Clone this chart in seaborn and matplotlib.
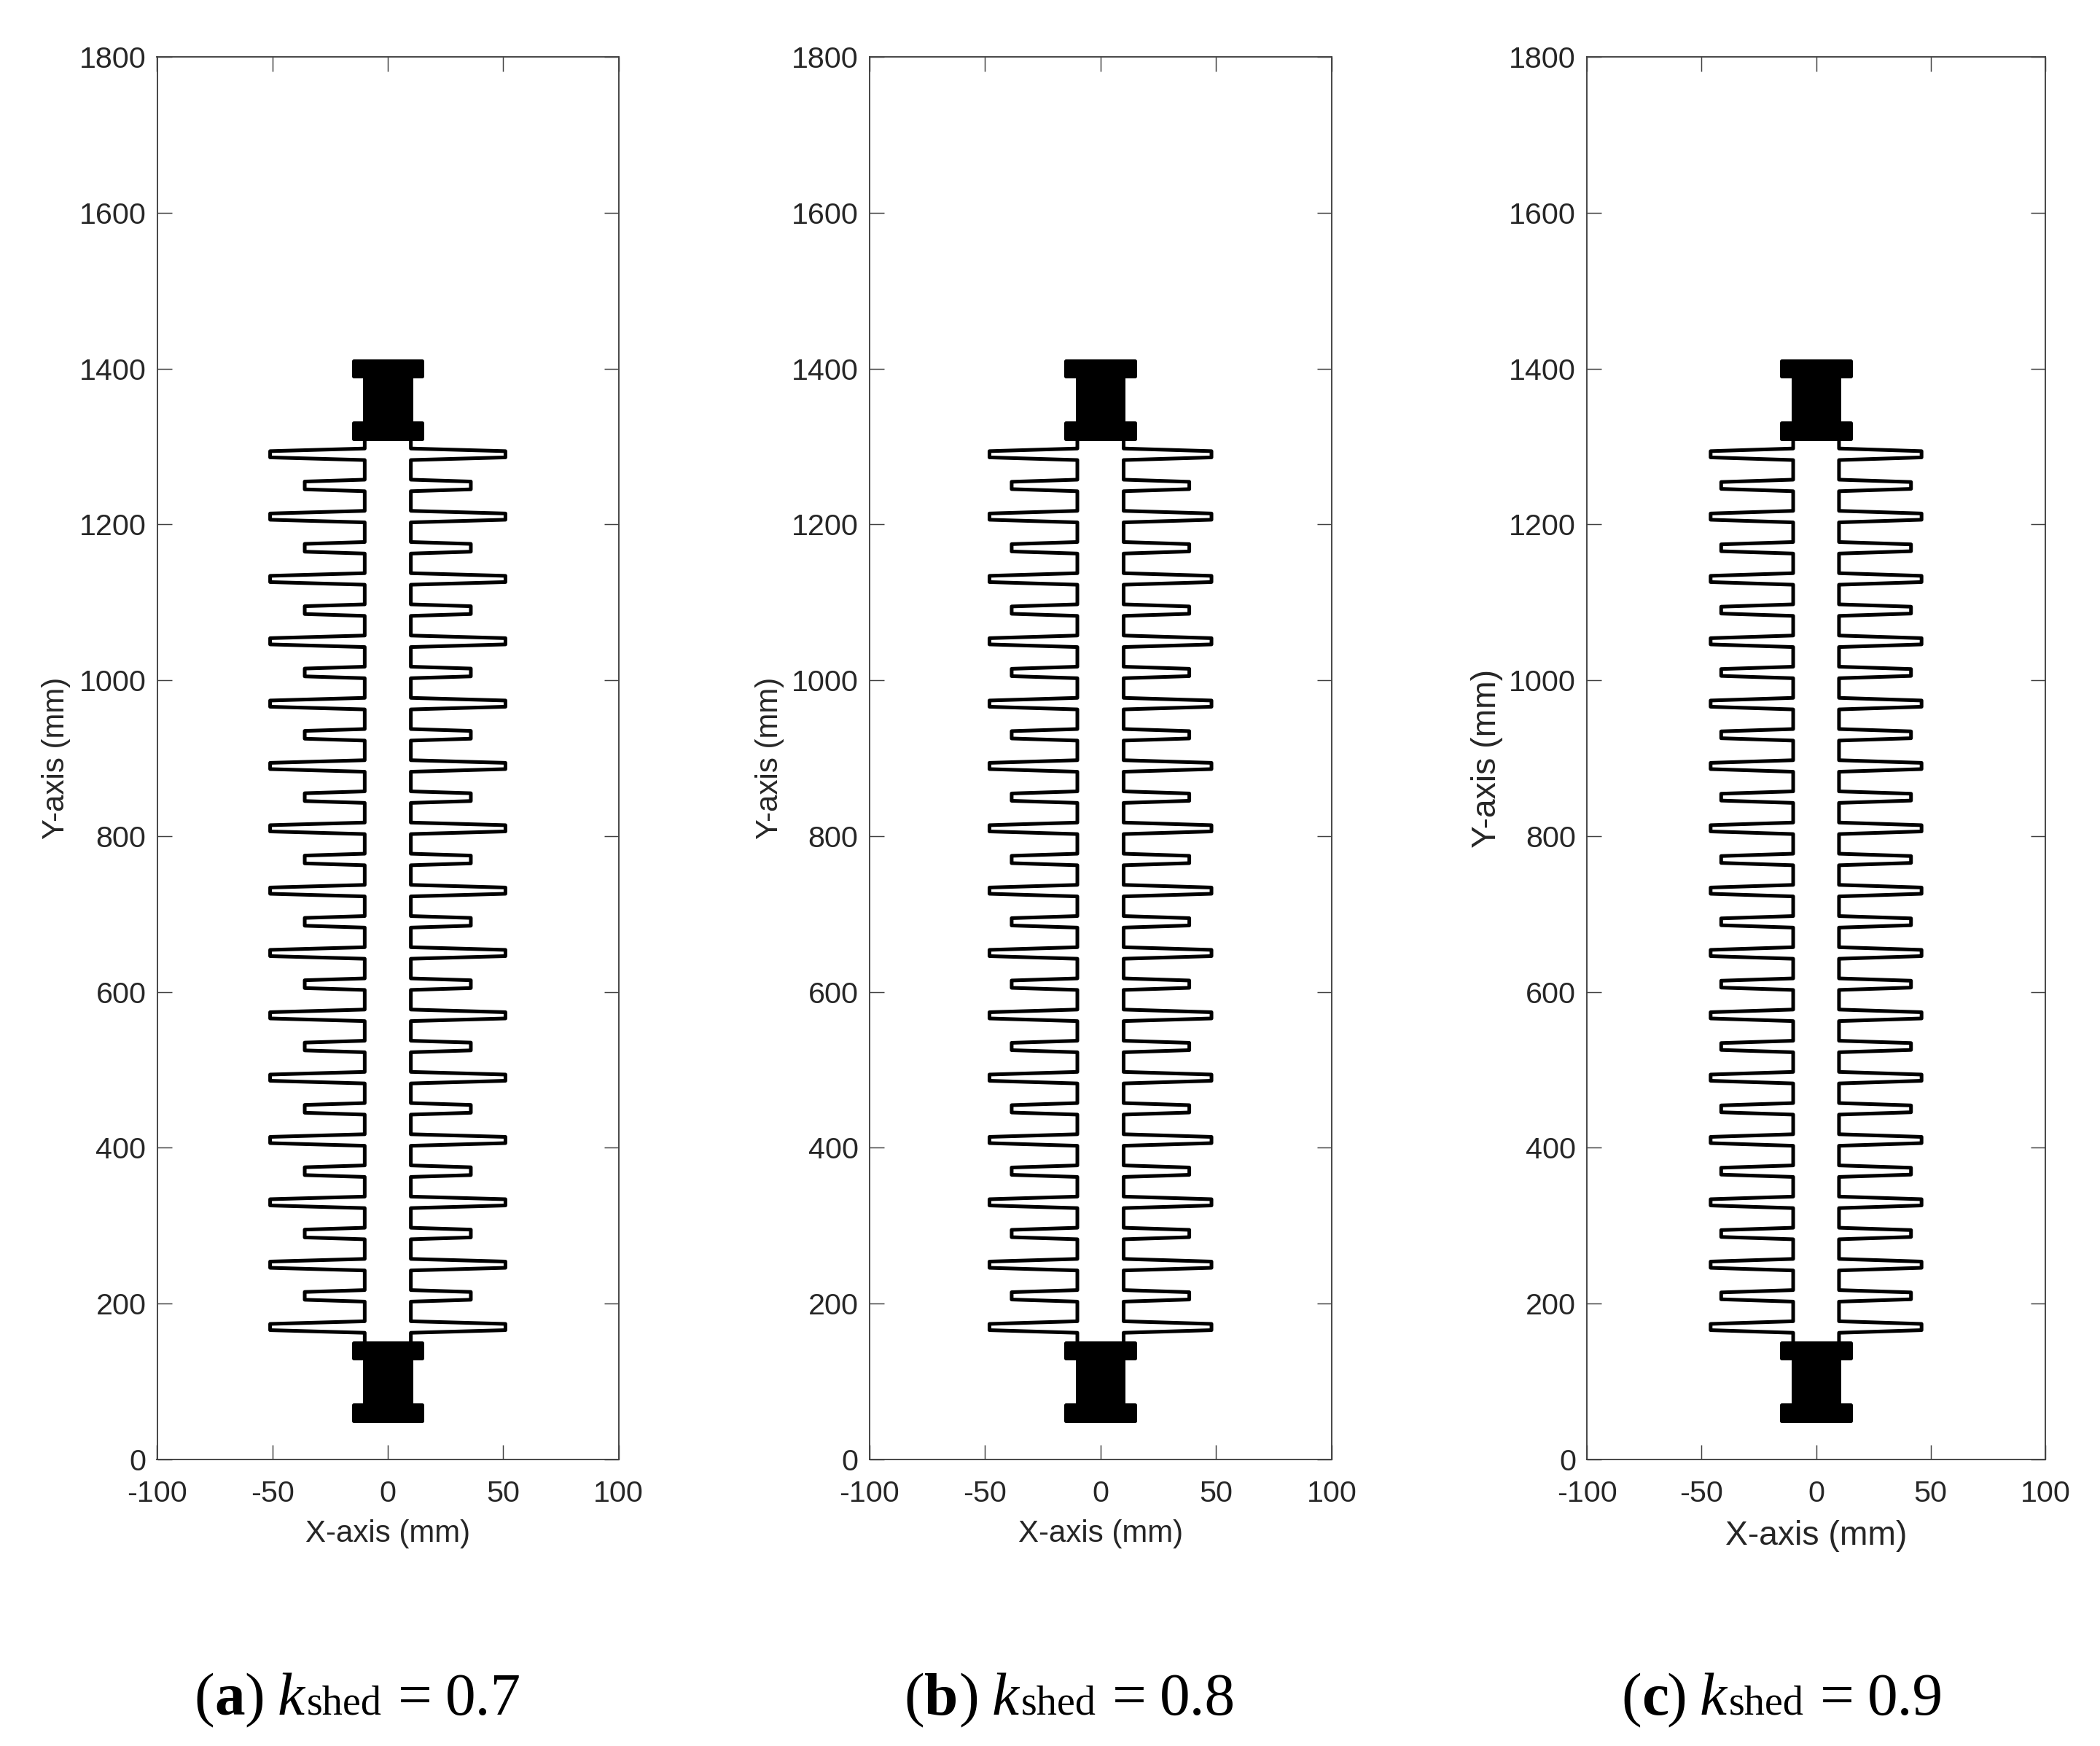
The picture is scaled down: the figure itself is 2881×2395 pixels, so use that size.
import matplotlib
matplotlib.use("Agg")
import matplotlib.pyplot as plt
import numpy as np
import pandas as pd
import seaborn as sns

# valores (mm)
panels = ["a", "b", "c"]
kshed_labels = ["0.7", "0.8", "0.9"]
shed_y = [170, 210, 250, 290, 330, 370, 410, 450, 490, 530, 570, 610, 650, 690, 730,
          770, 810, 850, 890, 930, 970, 1010, 1050, 1090, 1130, 1170, 1210, 1250, 1290]
large_radius = [51, 48, 46]
small_radius = [36, 38.4, 41.4]
large_half = [4.0, 4.0, 4.0]
small_half = [5.0, 4.7, 4.4]
core_radius = 10
root_half = 7.4
core_bottom = 150
core_top = 1310

fitting_x = [-15, 15, 15, 10, 10, 15, 15, -15, -15, -10, -10, -15]
fitting_bottom_y = [50, 50, 70, 70, 130, 130, 150, 150, 130, 130, 70, 70]
fitting_top_y = [1310, 1310, 1330, 1330, 1390, 1390, 1410, 1410, 1390, 1390, 1330, 1330]

x_ticks = [-100, -50, 0, 50, 100]
y_ticks = [0, 200, 400, 600, 800, 1000, 1200, 1400, 1600, 1800]

# caixas dos eixos em pixels: esquerda, direita
W, H = 2881, 2395
axes_px = [(215.5, 848.5), (1192.5, 1827), (2177, 2806)]
top_px, bottom_px = 78, 2002
xlabel_size = [10.1, 10.1, 11.1]
ylabel_size = [10.1, 10.1, 11.1]
xlabel_base_px = [2115, 2115, 2119]
ylabel_px = [77, 1056, 2040]
caption_px = [266, 1240, 2224]
bold_extra = [0, 6, -7]


def shed_profile(side, r_large, r_small, h_large, h_small):
    xs, ys = [side * core_radius], [core_bottom]
    for i, y in enumerate(shed_y):
        r = r_large if i % 2 == 0 else r_small
        h = h_large if i % 2 == 0 else h_small
        xs += [side * core_radius, side * r, side * r, side * core_radius]
        ys += [y - root_half, y - h, y + h, y + root_half]
    xs.append(side * core_radius)
    ys.append(core_top)
    return pd.DataFrame({"x": xs, "y": ys})


def draw_caption(fig, x_px, pieces, baseline_px):
    # cada pedaço da legenda tem o seu deslocamento em pixels
    for text, offset, size, weight, style in pieces:
        fig.text((x_px + offset) / W, 1 - baseline_px / H, text, fontsize=size, fontweight=weight,
                 fontstyle=style, family="Liberation Serif", va="baseline", ha="left",
                 color="black")


sns.set_theme(style="ticks")
plt.rcParams["font.family"] = ["Liberation Sans", "DejaVu Sans"]

fig = plt.figure(figsize=(W / 300, H / 300), dpi=300, facecolor="white")

for i, (left, right) in enumerate(axes_px):
    ax = fig.add_axes([left / W, 1 - bottom_px / H, (right - left) / W, (bottom_px - top_px) / H])
    for side in [-1, 1]:
        prof = shed_profile(side, large_radius[i], small_radius[i], large_half[i], small_half[i])
        sns.lineplot(data=prof, x="x", y="y", sort=False, estimator=None, color="black",
                     linewidth=1.2, solid_joinstyle="round", ax=ax)
    for fy in [fitting_bottom_y, fitting_top_y]:
        ax.fill(fitting_x, fy, facecolor="black", edgecolor="black", linewidth=1.2, joinstyle="round")

    ax.set_xlim(-100, 100)
    ax.set_ylim(0, 1800)
    ax.set_xticks(x_ticks)
    ax.set_yticks(y_ticks)
    ax.tick_params(axis="both", which="major", direction="in", length=4.8, width=0.35,
                   color="#404040", labelcolor="#262626", labelsize=9.9, top=True, right=True)
    ax.tick_params(axis="y", pad=3.6)
    ax.tick_params(axis="x", pad=6.7)
    for spine in ax.spines.values():
        spine.set_linewidth(0.45)
        spine.set_color("#404040")
    ax.set_xticklabels([str(v) for v in x_ticks])

    ax.set_xlabel("X-axis (mm)", fontsize=xlabel_size[i], color="#262626", va="baseline")
    ax.xaxis.set_label_coords(0.5, (bottom_px - xlabel_base_px[i]) / (bottom_px - top_px))
    ax.set_ylabel("Y-axis (mm)", fontsize=ylabel_size[i], color="#262626", va="center")
    ax.yaxis.set_label_coords((ylabel_px[i] - left) / (right - left), 0.5)

    extra = bold_extra[i]
    draw_caption(fig, caption_px[i], [
        ("(", 0, 20, "normal", "normal"),
        (panels[i], 28, 20, "bold", "normal"),
        (")", 69 + extra, 20, "normal", "normal"),
        ("k", 115 + extra, 20, "normal", "italic"),
        ("shed", 155 + extra, 13.5, "normal", "normal"),
        ("=", 280 + extra, 20, "normal", "normal"),
        (kshed_labels[i], 345 + extra, 20, "normal", "normal"),
    ], 2352)

fig.savefig("out.png", dpi=300, facecolor="white")
